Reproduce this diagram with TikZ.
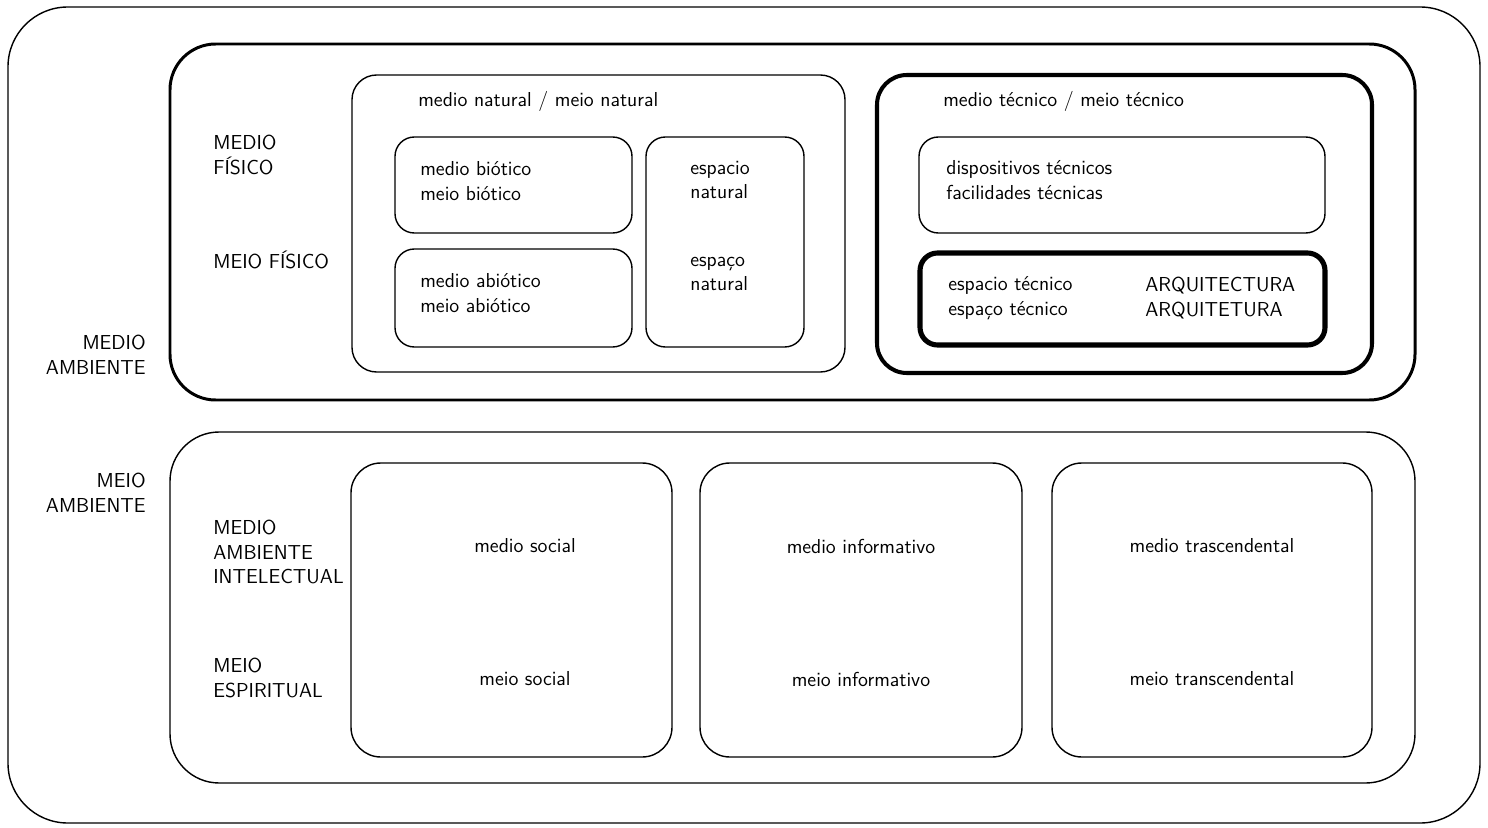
\documentclass[tikz,border=0pt]{standalone}
\usepackage{fontspec}
\tikzset{
  box/.style={draw, line width=0.8pt},
  heavybox/.style={draw, line width=1.7pt},
  label/.style={anchor=west, inner sep=0pt, align=left, font=\sffamily\fontsize{11.5}{14}\selectfont},
  rlabel/.style={anchor=east, inner sep=0pt, align=right, font=\sffamily\fontsize{11.5}{14}\selectfont},
  clabel/.style={inner sep=0pt, font=\sffamily\fontsize{11.5}{14}\selectfont}
}
\begin{document}
\begin{tikzpicture}[x=0.02cm, y=-0.02cm]
    \useasboundingbox (0,0) rectangle (1488,828);

    % marco exterior
    \draw[box, rounded corners=34pt] (8,7) rectangle (1480,823);
    \node[rlabel] (medamb) at (146,355) {MEDIO\\AMBIENTE};
    \node[rlabel] (meiamb) at (146,493) {MEIO\\AMBIENTE};

    % medio fisico
    \draw[heavybox, rounded corners=26pt] (170,44) rectangle (1415,400);
    \node[label] (medfis) at (213,155) {MEDIO\\FÍSICO};
    \node[label] (meifis) at (213,260) {MEIO FÍSICO};

    % medio natural
    \draw[box, rounded corners=14pt] (352,75) rectangle (845,372);
    \node[label] (natural) at (418,101) {medio natural / meio natural};
    \draw[box, rounded corners=11pt] (395,137) rectangle (632,233);
    \node[label] (biotico) at (420,181) {medio biótico\\meio biótico};
    \draw[box, rounded corners=11pt] (395,249) rectangle (632,347);
    \node[label] (abiotico) at (420,293) {medio abiótico\\meio abiótico};
    \draw[box, rounded corners=11pt] (646,137) rectangle (804,347);
    \node[label] (espnat) at (690,180) {espacio\\natural};
    \node[label] (espnat2) at (690,274) {espaço\\natural};

    % medio tecnico
    \draw[box, line width=2.3pt, rounded corners=17pt] (877,75) rectangle (1372,373);
    \node[label] (tecnico) at (943,101) {medio técnico / meio técnico};
    \draw[box, rounded corners=11pt] (919,137) rectangle (1325,233);
    \node[label] (disp) at (946,180) {dispositivos técnicos\\facilidades técnicas};
    \draw[box, line width=2.9pt, rounded corners=10pt] (920,253) rectangle (1325,345);
    \node[label] (esptec) at (948,298) {espacio técnico\\espaço técnico};
    \node[label] (arq) at (1145,298) {ARQUITECTURA\\ARQUITETURA};

    % medio intelectual
    \draw[box, rounded corners=28pt] (170,432) rectangle (1415,783);
    \node[label] (intel) at (213,552) {MEDIO\\AMBIENTE\\INTELECTUAL};
    \node[label] (espir) at (213,678) {MEIO\\ESPIRITUAL};

    % social / informativo / trascendental
    \draw[box, rounded corners=17pt] (351,463) rectangle (672,757);
    \node[clabel] (social) at (525,546) {medio social};
    \node[clabel] (social2) at (525,679) {meio social};
    \draw[box, rounded corners=17pt] (700,463) rectangle (1022,757);
    \node[clabel] (info) at (861,546) {medio informativo};
    \node[clabel] (info2) at (861,679) {meio informativo};
    \draw[box, rounded corners=17pt] (1052,463) rectangle (1372,757);
    \node[clabel] (trasc) at (1212,546) {medio trascendental};
    \node[clabel] (trasc2) at (1212,679) {meio transcendental};
\end{tikzpicture}
\end{document}
